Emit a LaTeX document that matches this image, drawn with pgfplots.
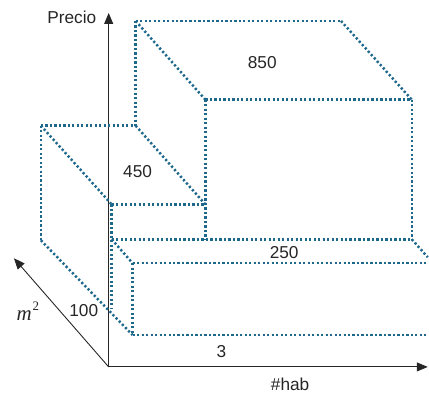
\documentclass[border=0pt]{standalone}
\usepackage{fontspec}
\setmainfont{Liberation Sans}
\newfontfamily\serifit{Liberation Serif}
\usepackage{pgfplots}
\pgfplotsset{compat=1.18}
\usetikzlibrary{arrows.meta}
\definecolor{boxc}{RGB}{30,104,140}
\begin{document}
\begin{tikzpicture}
\begin{axis}[width=429pt,height=392pt,scale only axis,
  xmin=0,xmax=429,ymin=0,ymax=392,y dir=reverse,hide axis,clip=false,
  bx/.style={color=boxc,line width=2.5pt,dash pattern=on 2.2pt off 2.3pt,mark=none},
  ax/.style={color=black!85,solid,line width=0.9pt,mark=none,-{Triangle[length=11pt,width=9pt]}},
  nodes={font=\fontsize{17.3}{20}\selectfont,text=black!85}]
\path[draw=none] (axis cs:0,0) rectangle (axis cs:429,392);
% axes
\addplot[ax] coordinates {(109,368) (109,13)};
\addplot[ax] coordinates {(109,368) (429,368)};
\addplot[ax] coordinates {(109,368) (14,259)};
% big box (850)
\addplot[bx] coordinates {(136,21) (342,21)};
\addplot[bx] coordinates {(136,21) (206,100)};
\addplot[bx] coordinates {(342,21) (413,100)};
\addplot[bx] coordinates {(206,100) (413,100)};
\addplot[bx] coordinates {(206,100) (206,240)};
\addplot[bx] coordinates {(413,100) (413,240)};
\addplot[bx] coordinates {(136,21) (136,126)};
% 450 box
\addplot[bx] coordinates {(41,126) (136,126)};
\addplot[bx] coordinates {(41,126) (112,205)};
\addplot[bx] coordinates {(136,126) (206,205)};
\addplot[bx] coordinates {(112,205) (206,205)};
\addplot[bx] coordinates {(41,126) (41,241)};
\addplot[bx] coordinates {(112,205) (112,310)};
% 250 box
\addplot[bx] coordinates {(112,240) (413,240)};
\addplot[bx] coordinates {(112,240) (133,264)};
\addplot[bx] coordinates {(133,264) (429,264)};
\addplot[bx] coordinates {(413,240) (429,258)};
\addplot[bx] coordinates {(133,264) (133,336)};
\addplot[bx] coordinates {(133,336) (429,336)};
\addplot[bx] coordinates {(41,241) (133,336)};
% labels
\node[anchor=east] at (axis cs:100,17) {Precio};
\node at (axis cs:263,63) {850};
\node at (axis cs:138,172) {450};
\node at (axis cs:285,253) {250};
\node at (axis cs:84,311) {100};
\node at (axis cs:222,353) {3};
\node at (axis cs:28,312) {{\fontsize{21}{21}\selectfont\serifit\itshape m}\kern1pt\raisebox{0.6em}{\fontsize{13}{13}\selectfont\serifit 2}};
\node at (axis cs:291,385) {\#hab};
\end{axis}
\end{tikzpicture}
\end{document}
